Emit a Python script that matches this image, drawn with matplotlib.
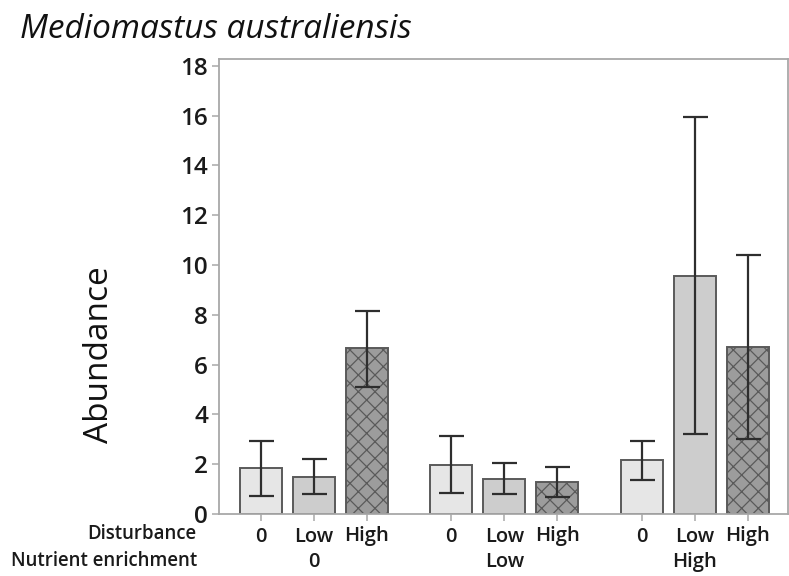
import matplotlib
matplotlib.use("Agg")
import matplotlib.pyplot as plt
import numpy as np

plt.rcParams['hatch.color'] = '#5e5e5e'
plt.rcParams['hatch.linewidth'] = 0.9

# Data: mean abundance with lower / upper error limits
nutrient_levels = ["0", "Low", "High"]
disturbance_levels = ["0", "Low", "High"]
means = [1.85, 1.49, 6.67,
         1.97, 1.41, 1.28,
         2.17, 9.55, 6.70]
err_low = [0.72, 0.80, 5.10,
           0.84, 0.80, 0.68,
           1.37, 3.20, 3.00]
err_high = [2.93, 2.20, 8.15,
            3.13, 2.05, 1.89,
            2.93, 15.94, 10.40]

face_colors = ["#e6e6e6", "#cdcdcd", "#9c9c9c"]
hatches = [None, None, "xx"]

group_gap = 3.6
positions = [g * group_gap + i for g in range(len(nutrient_levels))
             for i in range(len(disturbance_levels))]

fig = plt.figure(figsize=(7.89, 5.76), dpi=100)
ax = fig.add_axes([219 / 789, 1 - 514 / 576, (788 - 219) / 789, (514 - 59) / 576])

for k, x in enumerate(positions):
    i = k % 3
    ax.bar(x, means[k], width=0.79, color=face_colors[i], edgecolor="#5a5a5a",
           linewidth=1.4, hatch=hatches[i], zorder=2)

means_a = np.array(means)
yerr = np.vstack([means_a - np.array(err_low), np.array(err_high) - means_a])
ax.errorbar(positions, means, yerr=yerr, fmt="none", ecolor="#2e2e2e",
            elinewidth=1.6, capsize=9, capthick=1.6, zorder=3)

ax.set_xlim(-0.79, positions[-1] + 0.76)
ax.set_ylim(0, 18.27)
ax.set_yticks(np.arange(0, 19, 2))

tick_font = dict(family="Open Sans", weight="semibold")
ax.set_yticklabels([str(v) for v in range(0, 19, 2)], fontsize=17.5,
                   color="#1a1a1a", **tick_font)
ax.set_xticks(positions)
ax.set_xticklabels([disturbance_levels[k % 3] for k in range(len(positions))],
                   fontsize=14.5, color="#1a1a1a", **tick_font)

for side in ["left", "right", "top", "bottom"]:
    ax.spines[side].set_color("#a8a8a8")
    ax.spines[side].set_linewidth(1.3)
ax.tick_params(axis="y", length=5, width=1.1, color="#a8a8a8", pad=3)
ax.tick_params(axis="x", length=5, width=1.1, color="#a8a8a8", pad=4)

# Row headers and the nutrient-enrichment group labels below the axis
fig.text(196 / 789, 1 - 534 / 576, "Disturbance", ha="right", va="center",
         fontsize=13.4, color="#1a1a1a", **tick_font)
fig.text(197 / 789, 1 - 561 / 576, "Nutrient enrichment", ha="right", va="center",
         fontsize=13.4, color="#1a1a1a", **tick_font)
for g, name in enumerate(nutrient_levels):
    xc = g * group_gap + 1
    ax.annotate(name, xy=(xc, 0), xycoords=("data", "axes fraction"),
                xytext=(0, -48), textcoords="offset pixels",
                ha="center", va="center", fontsize=14.5, color="#1a1a1a",
                annotation_clip=False, **tick_font)

ax.set_ylabel("Abundance", fontsize=24, family="Open Sans", color="#111111",
              labelpad=0)
ax.yaxis.set_label_coords(-(219 - 116) / (788 - 219), (514 - 355) / (514 - 59))

fig.text(20 / 789, 1 - 29 / 576, "Mediomastus australiensis", ha="left",
         va="center", fontsize=24, style="italic", family="Open Sans",
         color="#111111")

fig.savefig("out.png", dpi=100)
